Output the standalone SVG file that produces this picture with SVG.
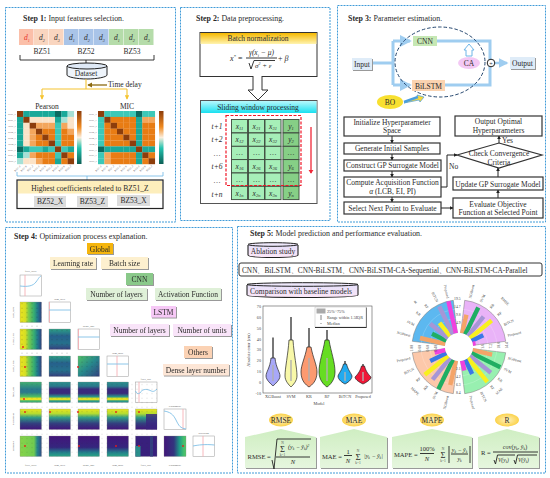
<svg xmlns="http://www.w3.org/2000/svg" width="550" height="478" viewBox="0 0 550 478">
<style>
text{font-family:"Liberation Serif","Times New Roman",serif;fill:#2a2a2a;font-size:7.5px}
.ttl{font-size:7.9px}.b{font-weight:bold}
.panel{fill:#fff;stroke:#3f9bd8;stroke-width:1;stroke-dasharray:2 1}
.m{text-anchor:middle}.i{font-style:italic}
.fb{fill:#fff;stroke:#333;stroke-width:1.2}
.ln{fill:none;stroke:#222;stroke-width:.9}
.conn{fill:none;stroke:#222;stroke-width:1;marker-end:url(#ak)}
.yl{fill:none;stroke:#f5c431;stroke-width:1.1}
.thick{fill:none;stroke:#9fcdf0;stroke-width:3}
.lbl{filter:url(#sh)}
.hc rect{width:6.45px;height:6px}
.a{fill:#8c3d0c}.k{fill:#e87c14}.c{fill:#f3a65c}.d{fill:#fbe3c8}.e{fill:#a6e0d6}.f{fill:#3cc8b8}.g{fill:#1aa999}.h{fill:#0b6a60}
.cell rect{width:16px;height:13.3px;stroke:#3d4a3d;stroke-width:.9}
.xc{fill:#a6efb8}.yc{fill:#86cf86}
.hm{stroke:#888;stroke-width:.3}
.lc{fill:#fff;stroke:#999;stroke-width:.5}
.cv{fill:none;stroke:#7fbfe6;stroke-width:.9}
.pk{stroke:#f5a6ac;stroke-width:.8}
.tiny{font-size:2.6px;fill:#555}
.hl{font-size:2.3px;fill:#555}
.red{fill:#e81c1c}
.ax{font-size:4.2px;fill:#444}
.vi{stroke:#222;stroke-width:.7}
.tail{stroke:#555;stroke-width:1.6}
.bars line{stroke-width:4.4}
.o{stroke:#f4a468}.gr{stroke:#1fae62}.pu{stroke:#a696d6}.ye{stroke:#f8f01e}.bl{stroke:#3a78e6}.ma{stroke:#f042de}
.rl{font-size:3.7px;fill:#444}
.sec{stroke:#777;stroke-width:.5}
.grid{fill:none;stroke:#fff;stroke-opacity:.45;stroke-width:.4}
.ell{fill:url(#ye)}
.mbox{fill:url(#gb);filter:url(#sh)}
.fx{font-size:6.6px}
.cyl{fill:url(#lav);stroke:#222;stroke-width:1.1}
</style>
<defs>
<marker id="ak" markerWidth="4" markerHeight="4" refX="3.4" refY="2" orient="auto"><path d="M0 0L4 2L0 4Z" fill="#222"/></marker>
<marker id="ay" markerWidth="4" markerHeight="4" refX="3.4" refY="2" orient="auto"><path d="M0 0L4 2L0 4Z" fill="#f5c431"/></marker>
<marker id="ab" markerWidth="4" markerHeight="4" refX="3.4" refY="2" orient="auto"><path d="M0 0L4 2L0 4Z" fill="#9fcdf0"/></marker>
<marker id="abr" markerWidth="4" markerHeight="4" refX="3.4" refY="2" orient="auto"><path d="M0 0L4 2L0 4Z" fill="#8c6a10"/></marker>
<marker id="ar" markerWidth="3" markerHeight="4" refX="2.5" refY="2" orient="auto"><path d="M0 0L3 2L0 4Z" fill="#f02838"/></marker>
<filter id="sh" x="-10%" y="-10%" width="125%" height="130%"><feDropShadow dx="1" dy="1" stdDeviation=".5" flood-color="#999"/></filter>
<linearGradient id="hy" x2="0" y2="1"><stop offset="0" stop-color="#f5b800"/><stop offset="1" stop-color="#fff4b0"/></linearGradient>
<linearGradient id="hc" x2="0" y2="1"><stop offset="0" stop-color="#b8f8fc"/><stop offset="1" stop-color="#18e0f0"/></linearGradient>
<linearGradient id="cbar" x2="0" y2="1"><stop offset="0" stop-color="#8c3d0c"/><stop offset=".3" stop-color="#f08a20"/><stop offset=".5" stop-color="#fbeedd"/><stop offset=".7" stop-color="#25c4b0"/><stop offset="1" stop-color="#0b5e55"/></linearGradient>
<linearGradient id="lav" x2="0" y2="1"><stop offset="0" stop-color="#e6e0fb"/><stop offset="1" stop-color="#fbe6f6"/></linearGradient>
<radialGradient id="ye"><stop offset="0" stop-color="#fff2c0"/><stop offset="1" stop-color="#fbd24a"/></radialGradient>
<linearGradient id="gb" x2="0" y2="1"><stop offset="0" stop-color="#cfeec2"/><stop offset="1" stop-color="#e6f6de"/></linearGradient>
<linearGradient id="h1"><stop offset="0" stop-color="#ece51e"/><stop offset=".25" stop-color="#d6de24"/><stop offset=".4" stop-color="#7ccb4a"/><stop offset=".65" stop-color="#36ad72"/><stop offset=".82" stop-color="#207a8c"/><stop offset="1" stop-color="#30407e"/></linearGradient>
<linearGradient id="h2"><stop offset="0" stop-color="#86d34a"/><stop offset=".65" stop-color="#70cb50"/><stop offset=".8" stop-color="#26868c"/><stop offset="1" stop-color="#2f4b85"/></linearGradient>
<linearGradient id="h3"><stop offset="0" stop-color="#42167a"/><stop offset=".45" stop-color="#33357e"/><stop offset=".7" stop-color="#1f9a88"/><stop offset=".88" stop-color="#40bc70"/><stop offset="1" stop-color="#55c665"/></linearGradient>
<linearGradient id="v1" x2="0" y2="1"><stop offset="0" stop-color="#eae51e"/><stop offset=".22" stop-color="#b6dc30"/><stop offset=".42" stop-color="#2f9c88"/><stop offset=".7" stop-color="#33407f"/><stop offset="1" stop-color="#42147a"/></linearGradient>
<linearGradient id="v2" x2="0" y2="1"><stop offset="0" stop-color="#42147a"/><stop offset=".55" stop-color="#35267e"/><stop offset=".8" stop-color="#237f8c"/><stop offset="1" stop-color="#2aa584"/></linearGradient>
<linearGradient id="v3" x2="0" y2="1"><stop offset="0" stop-color="#2ca085"/><stop offset=".35" stop-color="#26608c"/><stop offset=".7" stop-color="#26708c"/><stop offset="1" stop-color="#37407f"/></linearGradient>
<linearGradient id="v4" x2="1" y2="1"><stop offset="0" stop-color="#50c068"/><stop offset=".5" stop-color="#26888c"/><stop offset="1" stop-color="#33407f"/></linearGradient>
<linearGradient id="st" x2="0" y2="1"><stop offset="0" stop-color="#2a8f8c"/><stop offset=".2" stop-color="#2a7a8c"/><stop offset=".35" stop-color="#3a2a7c"/><stop offset=".55" stop-color="#3a2a7c"/><stop offset=".72" stop-color="#2a9a88"/><stop offset=".8" stop-color="#e0e024"/><stop offset=".86" stop-color="#e0e024"/><stop offset=".92" stop-color="#2a9a88"/><stop offset="1" stop-color="#2a8f8c"/></linearGradient>
<linearGradient id="st0" x2="0" y2="1"><stop offset="0" stop-color="#40b070"/><stop offset=".35" stop-color="#2a7a8c"/><stop offset=".5" stop-color="#2a7a8c"/><stop offset=".72" stop-color="#50c060"/><stop offset=".8" stop-color="#e8e424"/><stop offset=".86" stop-color="#e8e424"/><stop offset=".92" stop-color="#40b070"/><stop offset="1" stop-color="#40b070"/></linearGradient>
<pattern id="dots" width="5" height="4.5" patternUnits="userSpaceOnUse"><circle cx="2" cy="2" r=".35" fill="#222"/></pattern>
<path id="sector" d="M1.7-13.9L5.7-46.7A47 47 0 0 1 46.7-5.7L13.9-1.7A14 14 0 0 0 1.7-13.9Z"/>
</defs>
<rect width="550" height="478" fill="#fff"/>

<g id="panels">
<rect class="panel" x="5.500" y="7.500" width="170" height="214.500"/>
<rect class="panel" x="180.500" y="7.500" width="149.500" height="213"/>
<rect class="panel" x="337.500" y="5.500" width="208" height="216.500"/>
<rect class="panel" x="5.500" y="227.500" width="227" height="245.500"/>
<rect class="panel" x="237.500" y="226.500" width="308" height="246.500"/>
</g>

<g id="step1">
<text class="ttl" x="23" y="21"><tspan class="b">Step 1:</tspan> Input features selection.</text>
<g id="bz51">
<rect x="19" y="29" width="14.500" height="16" fill="#fbbfa9"/><rect x="34" y="29" width="14.500" height="16" fill="#f9d5bf"/><rect x="49" y="29" width="14.500" height="16" fill="#f9d5bf"/>
<text class="i" x="24" y="40" style="fill:#e8342c">d<tspan dy="1.500" font-size="4">1</tspan></text><text class="i" x="39" y="40">d<tspan dy="1.500" font-size="4">2</tspan></text><text class="i" x="54" y="40">d<tspan dy="1.500" font-size="4">3</tspan></text>
<text class="m" x="42" y="53.500">BZ51</text></g>
<g id="bz52">
<rect x="64" y="29" width="14.500" height="16" fill="#a9c4e8"/><rect x="79" y="29" width="14.500" height="16" fill="#a9c4e8"/><rect x="94" y="29" width="14.500" height="16" fill="#a9c4e8"/>
<text class="i" x="69" y="40">d<tspan dy="1.500" font-size="4">1</tspan></text><text class="i" x="84" y="40">d<tspan dy="1.500" font-size="4">2</tspan></text><text class="i" x="99" y="40">d<tspan dy="1.500" font-size="4">3</tspan></text>
<text class="m" x="86" y="53.500">BZ52</text></g>
<g id="bz53">
<rect x="109" y="29" width="14.500" height="16" fill="#b5dcaa"/><rect x="124" y="29" width="14.500" height="16" fill="#b5dcaa"/><rect x="139" y="29" width="14.500" height="16" fill="#b5dcaa"/>
<text class="i" x="114" y="40">d<tspan dy="1.500" font-size="4">1</tspan></text><text class="i" x="129" y="40">d<tspan dy="1.500" font-size="4">2</tspan></text><text class="i" x="144" y="40">d<tspan dy="1.500" font-size="4">3</tspan></text>
<text class="m" x="132" y="53.500">BZ53</text></g>
<g id="dataset">
<path d="M67 66V75C67 77 77 79 87 79S107 77 107 75V66" fill="#eef4fb" stroke="#222" stroke-width="1"/>
<ellipse cx="87" cy="66" rx="20" ry="3" fill="#dfe9f6" stroke="#222" stroke-width="1"/>
<text class="m" x="86" y="75.500">Dataset</text></g>
<g id="step1-connectors">
<path class="ln" d="M20 55V60H154V55M86 60V63"/>
<path class="yl" d="M86 79V89M42 89H127"/>
<path class="yl" d="M42 89V99" marker-end="url(#ay)"/>
<path class="yl" d="M127 89V99" marker-end="url(#ay)"/>
<path d="M107 85H88" fill="none" stroke="#8c6a10" stroke-width="1.300" marker-end="url(#abr)"/>
<path d="M17 172V176H163V172M87 176V180" fill="none" stroke="#6cb6e4" stroke-width=".8"/>
</g>
<text x="108" y="87">Time delay</text>
<text class="m" x="47" y="108.500">Pearson</text>
<text class="m" x="127" y="108.500">MIC</text>
<g id="pearson" class="hc" transform="translate(17,111)">
<rect class="a" x="0" y="0"/><rect class="g" x="6.330" y="0"/><rect class="g" x="12.660" y="0"/><rect class="g" x="19" y="0"/><rect class="g" x="25.300" y="0"/><rect class="g" x="31.600" y="0"/><rect class="h" x="38" y="0"/><rect class="g" x="44.300" y="0"/><rect class="e" x="50.600" y="0"/>
<rect class="g" x="0" y="5.900"/><rect class="a" x="6.330" y="5.900"/><rect class="d" x="12.660" y="5.900"/><rect class="d" x="19" y="5.900"/><rect class="d" x="25.300" y="5.900"/><rect class="d" x="31.600" y="5.900"/><rect class="g" x="38" y="5.900"/><rect class="e" x="44.300" y="5.900"/><rect class="d" x="50.600" y="5.900"/>
<rect class="g" x="0" y="11.800"/><rect class="d" x="6.330" y="11.800"/><rect class="a" x="12.660" y="11.800"/><rect class="c" x="19" y="11.800"/><rect class="c" x="25.300" y="11.800"/><rect class="c" x="31.600" y="11.800"/><rect class="f" x="38" y="11.800"/><rect class="c" x="44.300" y="11.800"/><rect class="d" x="50.600" y="11.800"/>
<rect class="g" x="0" y="17.700"/><rect class="d" x="6.330" y="17.700"/><rect class="c" x="12.660" y="17.700"/><rect class="a" x="19" y="17.700"/><rect class="k" x="25.300" y="17.700"/><rect class="k" x="31.600" y="17.700"/><rect class="f" x="38" y="17.700"/><rect class="k" x="44.300" y="17.700"/><rect class="c" x="50.600" y="17.700"/>
<rect class="g" x="0" y="23.600"/><rect class="d" x="6.330" y="23.600"/><rect class="c" x="12.660" y="23.600"/><rect class="k" x="19" y="23.600"/><rect class="a" x="25.300" y="23.600"/><rect class="k" x="31.600" y="23.600"/><rect class="f" x="38" y="23.600"/><rect class="k" x="44.300" y="23.600"/><rect class="k" x="50.600" y="23.600"/>
<rect class="g" x="0" y="29.500"/><rect class="d" x="6.330" y="29.500"/><rect class="c" x="12.660" y="29.500"/><rect class="k" x="19" y="29.500"/><rect class="k" x="25.300" y="29.500"/><rect class="a" x="31.600" y="29.500"/><rect class="f" x="38" y="29.500"/><rect class="k" x="44.300" y="29.500"/><rect class="k" x="50.600" y="29.500"/>
<rect class="h" x="0" y="35.400"/><rect class="g" x="6.330" y="35.400"/><rect class="f" x="12.660" y="35.400"/><rect class="f" x="19" y="35.400"/><rect class="g" x="25.300" y="35.400"/><rect class="f" x="31.600" y="35.400"/><rect class="a" x="38" y="35.400"/><rect class="f" x="44.300" y="35.400"/><rect class="g" x="50.600" y="35.400"/>
<rect class="g" x="0" y="41.300"/><rect class="e" x="6.330" y="41.300"/><rect class="c" x="12.660" y="41.300"/><rect class="k" x="19" y="41.300"/><rect class="k" x="25.300" y="41.300"/><rect class="k" x="31.600" y="41.300"/><rect class="f" x="38" y="41.300"/><rect class="a" x="44.300" y="41.300"/><rect class="k" x="50.600" y="41.300"/>
<rect class="e" x="0" y="47.200"/><rect class="d" x="6.330" y="47.200"/><rect class="d" x="12.660" y="47.200"/><rect class="c" x="19" y="47.200"/><rect class="k" x="25.300" y="47.200"/><rect class="k" x="31.600" y="47.200"/><rect class="g" x="38" y="47.200"/><rect class="k" x="44.300" y="47.200"/><rect class="a" x="50.600" y="47.200"/>
</g>
<g id="pearson-axis-labels">
<text class="hl" text-anchor="end" x="16" y="115">BZ51_X</text><text class="hl" text-anchor="end" x="16" y="121">BZ51_Y</text><text class="hl" text-anchor="end" x="16" y="127">BZ51_Z</text><text class="hl" text-anchor="end" x="16" y="132.500">BZ52_X</text><text class="hl" text-anchor="end" x="16" y="138.500">BZ52_Y</text><text class="hl" text-anchor="end" x="16" y="144.500">BZ52_Z</text><text class="hl" text-anchor="end" x="16" y="150.500">BZ53_X</text><text class="hl" text-anchor="end" x="16" y="156">BZ53_Y</text><text class="hl" text-anchor="end" x="16" y="162">BZ53_Z</text>
<text class="hl" text-anchor="end" transform="translate(21,166) rotate(-45)">BZ51_X</text><text class="hl" text-anchor="end" transform="translate(27.300,166) rotate(-45)">BZ51_Y</text><text class="hl" text-anchor="end" transform="translate(33.600,166) rotate(-45)">BZ51_Z</text><text class="hl" text-anchor="end" transform="translate(40,166) rotate(-45)">BZ52_X</text><text class="hl" text-anchor="end" transform="translate(46.300,166) rotate(-45)">BZ52_Y</text><text class="hl" text-anchor="end" transform="translate(52.600,166) rotate(-45)">BZ52_Z</text><text class="hl" text-anchor="end" transform="translate(59,166) rotate(-45)">BZ53_X</text><text class="hl" text-anchor="end" transform="translate(65.300,166) rotate(-45)">BZ53_Y</text><text class="hl" text-anchor="end" transform="translate(71.600,166) rotate(-45)">BZ53_Z</text>
</g>
<rect x="77" y="111" width="4.500" height="53" fill="url(#cbar)"/>
<g id="mic" class="hc" transform="translate(98,111)">
<rect class="a" x="0" y="0"/><rect class="f" x="6.330" y="0"/><rect class="f" x="12.660" y="0"/><rect class="f" x="19" y="0"/><rect class="f" x="25.300" y="0"/><rect class="f" x="31.600" y="0"/><rect class="h" x="38" y="0"/><rect class="f" x="44.300" y="0"/><rect class="f" x="50.600" y="0"/>
<rect class="f" x="0" y="5.900"/><rect class="a" x="6.330" y="5.900"/><rect class="k" x="12.660" y="5.900"/><rect class="k" x="19" y="5.900"/><rect class="k" x="25.300" y="5.900"/><rect class="k" x="31.600" y="5.900"/><rect class="g" x="38" y="5.900"/><rect class="c" x="44.300" y="5.900"/><rect class="c" x="50.600" y="5.900"/>
<rect class="f" x="0" y="11.800"/><rect class="k" x="6.330" y="11.800"/><rect class="a" x="12.660" y="11.800"/><rect class="k" x="19" y="11.800"/><rect class="k" x="25.300" y="11.800"/><rect class="k" x="31.600" y="11.800"/><rect class="g" x="38" y="11.800"/><rect class="k" x="44.300" y="11.800"/><rect class="k" x="50.600" y="11.800"/>
<rect class="f" x="0" y="17.700"/><rect class="k" x="6.330" y="17.700"/><rect class="k" x="12.660" y="17.700"/><rect class="a" x="19" y="17.700"/><rect class="k" x="25.300" y="17.700"/><rect class="k" x="31.600" y="17.700"/><rect class="g" x="38" y="17.700"/><rect class="k" x="44.300" y="17.700"/><rect class="k" x="50.600" y="17.700"/>
<rect class="f" x="0" y="23.600"/><rect class="k" x="6.330" y="23.600"/><rect class="k" x="12.660" y="23.600"/><rect class="k" x="19" y="23.600"/><rect class="a" x="25.300" y="23.600"/><rect class="k" x="31.600" y="23.600"/><rect class="g" x="38" y="23.600"/><rect class="k" x="44.300" y="23.600"/><rect class="k" x="50.600" y="23.600"/>
<rect class="f" x="0" y="29.500"/><rect class="k" x="6.330" y="29.500"/><rect class="k" x="12.660" y="29.500"/><rect class="k" x="19" y="29.500"/><rect class="k" x="25.300" y="29.500"/><rect class="a" x="31.600" y="29.500"/><rect class="g" x="38" y="29.500"/><rect class="k" x="44.300" y="29.500"/><rect class="k" x="50.600" y="29.500"/>
<rect class="h" x="0" y="35.400"/><rect class="g" x="6.330" y="35.400"/><rect class="g" x="12.660" y="35.400"/><rect class="g" x="19" y="35.400"/><rect class="g" x="25.300" y="35.400"/><rect class="g" x="31.600" y="35.400"/><rect class="a" x="38" y="35.400"/><rect class="g" x="44.300" y="35.400"/><rect class="g" x="50.600" y="35.400"/>
<rect class="f" x="0" y="41.300"/><rect class="c" x="6.330" y="41.300"/><rect class="k" x="12.660" y="41.300"/><rect class="k" x="19" y="41.300"/><rect class="k" x="25.300" y="41.300"/><rect class="k" x="31.600" y="41.300"/><rect class="g" x="38" y="41.300"/><rect class="a" x="44.300" y="41.300"/><rect class="k" x="50.600" y="41.300"/>
<rect class="f" x="0" y="47.200"/><rect class="c" x="6.330" y="47.200"/><rect class="k" x="12.660" y="47.200"/><rect class="k" x="19" y="47.200"/><rect class="k" x="25.300" y="47.200"/><rect class="k" x="31.600" y="47.200"/><rect class="g" x="38" y="47.200"/><rect class="k" x="44.300" y="47.200"/><rect class="a" x="50.600" y="47.200"/>
</g>
<g id="mic-axis-labels">
<text class="hl" text-anchor="end" x="97" y="115">BZ51_X</text><text class="hl" text-anchor="end" x="97" y="121">BZ51_Y</text><text class="hl" text-anchor="end" x="97" y="127">BZ51_Z</text><text class="hl" text-anchor="end" x="97" y="132.500">BZ52_X</text><text class="hl" text-anchor="end" x="97" y="138.500">BZ52_Y</text><text class="hl" text-anchor="end" x="97" y="144.500">BZ52_Z</text><text class="hl" text-anchor="end" x="97" y="150.500">BZ53_X</text><text class="hl" text-anchor="end" x="97" y="156">BZ53_Y</text><text class="hl" text-anchor="end" x="97" y="162">BZ53_Z</text>
<text class="hl" text-anchor="end" transform="translate(102,166) rotate(-45)">BZ51_X</text><text class="hl" text-anchor="end" transform="translate(108.300,166) rotate(-45)">BZ51_Y</text><text class="hl" text-anchor="end" transform="translate(114.600,166) rotate(-45)">BZ51_Z</text><text class="hl" text-anchor="end" transform="translate(121,166) rotate(-45)">BZ52_X</text><text class="hl" text-anchor="end" transform="translate(127.300,166) rotate(-45)">BZ52_Y</text><text class="hl" text-anchor="end" transform="translate(133.600,166) rotate(-45)">BZ52_Z</text><text class="hl" text-anchor="end" transform="translate(140,166) rotate(-45)">BZ53_X</text><text class="hl" text-anchor="end" transform="translate(146.300,166) rotate(-45)">BZ53_Y</text><text class="hl" text-anchor="end" transform="translate(152.600,166) rotate(-45)">BZ53_Z</text>
</g>
<rect x="159" y="111" width="4.500" height="53" fill="url(#cbar)"/>
<g id="coefficients">
<rect x="17" y="180" width="146" height="28.500" fill="#fff" stroke="#222" stroke-width="1.200"/>
<rect x="18" y="181" width="144" height="12.500" fill="#fdeebc"/>
<text class="m" x="90" y="190.500">Highest coefficients related to BZ51_Z</text>
<rect x="34" y="196" width="32" height="11" fill="#dcdcdc"/><text class="m" x="50" y="204">BZ52_X</text>
<rect x="77" y="196" width="31" height="11" fill="#dcdcdc"/><text class="m" x="92.500" y="204">BZ53_Z</text>
<rect x="117" y="195" width="33" height="11" fill="#dcdcdc"/><text class="m" x="133.500" y="203">BZ53_X</text>
</g>
</g>

<g id="step2">
<text class="ttl" x="196" y="21"><tspan class="b">Step 2:</tspan> Data preprocessing.</text>
<g id="batch-normalization">
<rect x="200" y="32.500" width="117" height="44" fill="#fff" stroke="#333" stroke-width="1"/>
<rect x="200.500" y="33" width="116" height="11" fill="url(#hy)"/>
<text class="m" x="258" y="41">Batch normalization</text>
<text class="i" x="230" y="61" style="font-size:8px">x<tspan dy="-3" style="font-size:5px">*</tspan><tspan dy="3" font-style="normal"> =</tspan></text>
<text class="i m" x="261.500" y="55" style="font-size:7.5px">γ(x<tspan dy="1.500" style="font-size:4.500px">i</tspan><tspan dy="-1.500"> − μ)</tspan></text>
<path class="ln" d="M246 58H277M249 63L251 69L254 60.500H275" stroke-width=".7"/>
<text class="i" x="255" y="67.500" style="font-size:7px">σ<tspan dy="-2.500" style="font-size:4px">2</tspan><tspan dy="2.500"> + ε</tspan></text>
<text class="i" x="278" y="61" style="font-size:8px"><tspan font-style="normal">+ </tspan>β</text>
</g>
<path id="hollow-arrow" d="M253 76V90H248L258 100L268 90H262V76" fill="#fff" stroke="#333" stroke-width="1"/>
<g id="sliding-window">
<rect x="200.500" y="100.500" width="116.500" height="103" fill="#fff" stroke="#555" stroke-width="1"/>
<rect x="201" y="101" width="115.500" height="12" fill="url(#hc)"/>
<text class="m" x="258" y="109.500">Sliding window processing</text>
<text class="i m" x="217" y="129">t+1</text><text class="i m" x="217" y="142">t+2</text><text class="m" x="217" y="156">…</text><text class="i m" x="217" y="169">t+6</text><text class="m" x="217" y="183">…</text><text class="i m" x="217" y="197">t+n</text>
<g class="cell">
<rect class="xc" x="231.500" y="119.500"/><rect class="xc" x="248.500" y="119.500"/><rect class="xc" x="265" y="119.500"/><rect class="yc" x="283" y="119.500"/>
<rect class="xc" x="231.500" y="133"/><rect class="xc" x="248.500" y="133"/><rect class="xc" x="265" y="133"/><rect class="yc" x="283" y="133"/>
<rect class="xc" x="231.500" y="146.300"/><rect class="xc" x="248.500" y="146.300"/><rect class="xc" x="265" y="146.300"/><rect class="yc" x="283" y="146.300"/>
<rect class="xc" x="231.500" y="159.600"/><rect class="xc" x="248.500" y="159.600"/><rect class="xc" x="265" y="159.600"/><rect class="yc" x="283" y="159.600"/>
<rect class="xc" x="231.500" y="173"/><rect class="xc" x="248.500" y="173"/><rect class="xc" x="265" y="173"/><rect class="yc" x="283" y="173"/>
<rect class="xc" x="231.500" y="186.300"/><rect class="xc" x="248.500" y="186.300"/><rect class="xc" x="265" y="186.300"/><rect class="yc" x="283" y="186.300"/>
</g>
<g class="i">
<text class="m" x="239.500" y="129">x<tspan dy="1" style="font-size:4.500px">11</tspan></text><text class="m" x="256.500" y="129">x<tspan dy="1" style="font-size:4.500px">21</tspan></text><text class="m" x="273" y="129">x<tspan dy="1" style="font-size:4.500px">31</tspan></text><text class="m" x="291" y="129">y<tspan dy="1" style="font-size:4.500px">1</tspan></text>
<text class="m" x="239.500" y="142">x<tspan dy="1" style="font-size:4.500px">12</tspan></text><text class="m" x="256.500" y="142">x<tspan dy="1" style="font-size:4.500px">22</tspan></text><text class="m" x="273" y="142">x<tspan dy="1" style="font-size:4.500px">32</tspan></text><text class="m" x="291" y="142">y<tspan dy="1" style="font-size:4.500px">2</tspan></text>
<text class="m" x="239.500" y="155">…</text><text class="m" x="256.500" y="155">…</text><text class="m" x="273" y="155">…</text><text class="m" x="291" y="155">…</text>
<text class="m" x="239.500" y="168.500">x<tspan dy="1" style="font-size:4.500px">16</tspan></text><text class="m" x="256.500" y="168.500">x<tspan dy="1" style="font-size:4.500px">26</tspan></text><text class="m" x="273" y="168.500">x<tspan dy="1" style="font-size:4.500px">36</tspan></text><text class="m" x="291" y="168.500">y<tspan dy="1" style="font-size:4.500px">6</tspan></text>
<text class="m" x="239.500" y="182">…</text><text class="m" x="256.500" y="182">…</text><text class="m" x="273" y="182">…</text><text class="m" x="291" y="182">…</text>
<text class="m" x="239.500" y="195.500">x<tspan dy="1" style="font-size:4.500px">1n</tspan></text><text class="m" x="256.500" y="195.500">x<tspan dy="1" style="font-size:4.500px">2n</tspan></text><text class="m" x="273" y="195.500">x<tspan dy="1" style="font-size:4.500px">3n</tspan></text><text class="m" x="291" y="195.500">y<tspan dy="1" style="font-size:4.500px">n</tspan></text>
</g>
<rect x="226" y="115.500" width="75" height="70" fill="none" stroke="#f01828" stroke-width="1.200" stroke-dasharray="3 1.500"/>
<path d="M311 127V173" fill="none" stroke="#f02838" stroke-width="1.300" marker-end="url(#ar)"/>
</g>
</g>

<g id="step3">
<text class="ttl" x="348" y="21"><tspan class="b">Step 3:</tspan> Parameter estimation.</text>
<g id="step3-network-connectors">
<path class="thick" d="M372 63H393M393 41V85M393 41H410" marker-end="url(#ab)"/>
<path class="thick" d="M393 85H410" marker-end="url(#ab)"/>
<path class="thick" d="M437 41H490V85H445"/>
<path d="M495 63H507" fill="none" stroke="#9fcdf0" stroke-width="2.500" marker-end="url(#ab)"/>
<path d="M466 56V50H464L469 44L474 50H472V56Z" fill="#fff" stroke="#6fb6e8" stroke-width="1"/>
<path d="M404 102L418 97" fill="none" stroke="#4a9ede" stroke-width="2.500"/>
<path d="M404 103L418 98L417 95L424 97L420 102L419 100Z" fill="#f8d838" stroke="#4a9ede" stroke-width=".7"/>
</g>
<ellipse id="dashed-scope" cx="440" cy="62" rx="45" ry="35" fill="none" stroke="#24466e" stroke-width="1" stroke-dasharray="3.500 2"/>
<g id="n-input"><rect x="352" y="58" width="20" height="12" fill="#dfecf8" filter="url(#sh)"/><text class="m" x="362" y="66.500">Input</text></g>
<g id="n-cnn"><rect x="413" y="36" width="24" height="10" fill="#c6e8b4"/><text class="m" x="425" y="44">CNN</text></g>
<g id="n-bilstm"><rect x="412" y="80" width="33" height="11" fill="#fbd3b0"/><text class="m" x="428.500" y="88.500">BiLSTM</text></g>
<g id="n-ca"><ellipse cx="469" cy="63" rx="11" ry="6" fill="#f3c8f4"/><text class="m" x="469" y="66">CA</text></g>
<g id="n-plus"><circle cx="491" cy="63" r="3.800" fill="#fff" stroke="#222"/><text class="m" x="491" y="65.500" style="font-size:6px">+</text></g>
<g id="n-output"><rect x="510" y="57" width="25" height="12" fill="#dfecf8" filter="url(#sh)"/><text class="m" x="522.500" y="65.500">Output</text></g>
<g id="n-bo"><ellipse cx="390" cy="102" rx="13" ry="7" fill="#f8e030"/><text class="m" x="390" y="105">BO</text></g>
<g id="step3-flow-connectors">
<path class="conn" d="M392 136V143"/><path class="conn" d="M392 154V160"/><path class="conn" d="M392 171V177"/><path class="conn" d="M392 197V202"/>
<path class="conn" d="M441 208H453"/><path class="conn" d="M498 198V190"/><path class="conn" d="M498 177V168"/><path class="conn" d="M499 143V136"/>
<path class="conn" d="M441 187H447V155H457"/>
</g>
<g id="n-init"><rect class="fb" x="344" y="117" width="96" height="19"/><text class="m" x="392" y="124.500">Initialize Hyperparameter</text><text class="m" x="392" y="133">Space</text></g>
<g id="n-gen"><rect class="fb" x="344" y="143" width="96" height="11"/><text class="m" x="392" y="151">Generate Initial Samples</text></g>
<g id="n-gp"><rect class="fb" x="344" y="160" width="97" height="11"/><text class="m" x="392.500" y="168">Construct GP Surrogate Model</text></g>
<g id="n-acq"><rect class="fb" x="344" y="177" width="97" height="20"/><text class="m" x="392.500" y="185">Compute Acquisition Function</text><text class="m" x="392.500" y="194"><tspan class="i">α</tspan> (LCB, EI, PI)</text></g>
<g id="n-select"><rect class="fb" x="344" y="202" width="97" height="12"/><text class="m" x="392.500" y="211">Select Next Point to Evaluate</text></g>
<g id="n-opt"><rect class="fb" x="455" y="116" width="87" height="20"/><text class="m" x="498.500" y="124">Output Optimal</text><text class="m" x="498.500" y="133">Hyperparameters</text></g>
<g id="n-check"><path class="fb" d="M457 155L499 143L542 155L499 168Z"/><text class="m" x="499" y="156">Check Convergence</text><text class="m" x="499" y="165">Criteria</text></g>
<g id="n-update"><rect class="fb" x="453" y="177" width="90" height="13"/><text class="m" x="498" y="186.500">Update GP Surrogate Model</text></g>
<g id="n-eval"><rect class="fb" x="453" y="198" width="90" height="20"/><text class="m" x="498" y="206.500">Evaluate Objective</text><text class="m" x="498" y="215">Function at Selected Point</text></g>
<text x="502" y="142.500">Yes</text><text x="449" y="169">No</text>
</g>

<g id="step4">
<text class="ttl" x="14" y="239"><tspan class="b">Step 4:</tspan> Optimization process explanation.</text>
<g class="lbl">
<g id="n-global"><rect x="87" y="243" width="26" height="11" fill="#f5b50a"/><text class="m" x="100" y="251.500">Global</text></g>
<g id="n-lr"><rect x="50" y="257" width="46" height="12" fill="#fdf0cf"/><text class="m" x="73" y="266">Learning rate</text></g>
<g id="n-bs"><rect x="101" y="257" width="47" height="12" fill="#fdf0cf"/><text class="m" x="124.500" y="266">Batch size</text></g>
<g id="n-cnn2"><rect x="126" y="273" width="27" height="12" fill="#8ac98a"/><text class="m" x="139.500" y="281.500">CNN</text></g>
<g id="n-cl"><rect x="86" y="288" width="61" height="12" fill="#dff0d8"/><text class="m" x="116.500" y="297">Number of layers</text></g>
<g id="n-af"><rect x="155" y="288" width="66" height="12" fill="#dff0d8"/><text class="m" x="188" y="297">Activation Function</text></g>
<g id="n-lstm"><rect x="151" y="306" width="25" height="11.500" fill="#f6c8f6"/><text class="m" x="163.500" y="314.500">LSTM</text></g>
<g id="n-ll"><rect x="110" y="324" width="59" height="12" fill="#f9e4f9"/><text class="m" x="139.500" y="332.500">Number of layers</text></g>
<g id="n-lu"><rect x="173" y="324" width="58" height="12" fill="#f9e4f9"/><text class="m" x="202" y="332.500">Number of units</text></g>
<g id="n-others"><rect x="184" y="346" width="28" height="12" fill="#fbd2b4"/><text class="m" x="198" y="354.500">Others</text></g>
<g id="n-dense"><rect x="163" y="364" width="66" height="11.500" fill="#fde6d6"/><text class="m" x="196" y="372.500">Dense layer number</text></g>
</g>
<g id="pairplot">
<rect class="lc" x="20" y="275" width="21.500" height="21"/><path class="pk" d="M25 275V296"/><path class="cv" d="M20 286C28 287 33 286 36 282S39 277 41 276"/>
<text class="tiny m" x="30.700" y="272">filter_layer</text>
<rect class="hm" x="20" y="302" width="21.500" height="20.500" fill="url(#h1)"/>
<rect class="hm" x="20" y="329" width="21.500" height="20.500" fill="url(#h1)"/>
<rect class="hm" x="20" y="356" width="21.500" height="20.500" fill="url(#h1)"/>
<rect class="hm" x="20" y="382" width="21.500" height="20.500" fill="url(#st0)"/>
<rect class="hm" x="20" y="409" width="21.500" height="20.500" fill="url(#v1)"/>
<rect class="hm" x="20" y="436" width="21.500" height="20.500" fill="url(#h2)"/>
<rect class="lc" x="49" y="302" width="21.500" height="20.500"/><path class="pk" d="M49.500 302V322.500"/><path class="cv" d="M49 310H70.500"/>
<text class="tiny m" x="59.700" y="299.500">lstm_layer</text>
<rect class="hm" x="49" y="329" width="21.500" height="20.500" fill="url(#v3)"/>
<rect class="hm" x="49" y="356" width="21.500" height="20.500" fill="url(#v3)"/>
<rect class="hm" x="49" y="382" width="21.500" height="20.500" fill="url(#st)"/>
<rect class="hm" x="49" y="409" width="21.500" height="20.500" fill="url(#v1)"/>
<rect class="hm" x="49" y="436" width="21.500" height="20.500" fill="url(#v2)"/>
<rect class="lc" x="78" y="329" width="21.500" height="20.500"/><path class="pk" d="M78.500 329V349.500"/><path class="cv" d="M78 337H99.500"/>
<text class="tiny m" x="88.700" y="326.500">dense_unit</text>
<rect class="hm" x="78" y="356" width="21.500" height="20.500" fill="url(#v4)"/>
<rect class="hm" x="78" y="382" width="21.500" height="20.500" fill="url(#st)"/>
<rect class="hm" x="78" y="409" width="21.500" height="20.500" fill="url(#v1)"/>
<rect class="hm" x="78" y="436" width="21.500" height="20.500" fill="url(#v2)"/>
<rect class="lc" x="107" y="356" width="21.500" height="20.500"/><path class="pk" d="M117 356V376.500"/><path class="cv" d="M107 364H128.500"/>
<text class="tiny m" x="117.700" y="353.500">lstm_units</text>
<rect class="hm" x="107" y="382" width="21.500" height="20.500" fill="url(#st)"/>
<rect class="hm" x="107" y="409" width="21.500" height="20.500" fill="url(#v1)"/>
<rect class="hm" x="107" y="436" width="21.500" height="20.500" fill="url(#v2)"/>
<rect class="lc" x="135.500" y="382" width="21.500" height="20.500"/><path class="pk" d="M139 382V402.500"/><path class="cv" d="M135.500 391C137 394 138 394 140 393C142 389 146 389 149 390S153 393 157 389"/>
<text class="tiny m" x="146" y="380">filter_size</text>
<rect class="hm" x="135.500" y="409" width="21.500" height="20.500" fill="url(#v1)"/>
<rect x="146" y="414" width="11" height="15.500" fill="#3a2480" opacity=".8"/>
<rect class="hm" x="135.500" y="436" width="21.500" height="20.500" fill="#38207c"/>
<rect x="135.500" y="446" width="5" height="10.500" fill="#2a8f8c"/>
<rect x="150" y="436" width="3" height="20.500" fill="#33407f"/>
<rect class="lc" x="164" y="409" width="22" height="20.500"/><path class="pk" d="M183 409V429.500"/><path class="cv" d="M164 411C170 412 173 414 176 420S180 428 186 429"/>
<text class="tiny m" x="175" y="407">learningrate</text>
<rect class="hm" x="164" y="436" width="22" height="20.500" fill="url(#h3)"/>
<rect class="lc" x="193" y="436" width="21.500" height="20.500"/><path class="pk" d="M203 436V456.500"/><path class="cv" d="M193 446C198 445 205 444 214.500 445"/>
<text class="tiny m" x="203.700" y="434">activation</text>
<rect x="20" y="302" width="21.500" height="74.500" fill="url(#dots)"/><rect x="49" y="329" width="21.500" height="47.500" fill="url(#dots)"/><rect x="78" y="356" width="21.500" height="20.500" fill="url(#dots)"/>
<rect x="20" y="382" width="137" height="74.500" fill="url(#dots)" opacity=".55"/>
<g class="red"><circle cx="23" cy="347" r=".9"/><circle cx="25" cy="367" r=".9"/><circle cx="24" cy="399" r=".9"/><circle cx="25" cy="412" r=".9"/><circle cx="25" cy="446" r=".9"/><circle cx="50" cy="412" r=".9"/><circle cx="78" cy="412" r=".9"/><circle cx="78" cy="367" r=".9"/><circle cx="116" cy="446" r=".9"/><circle cx="139" cy="412" r=".9"/><circle cx="79" cy="446" r=".9"/><circle cx="139" cy="446" r=".9"/><circle cx="183" cy="446" r=".9"/><circle cx="116" cy="412" r=".9"/></g>
<g>
<text class="m tiny" transform="translate(14,312) rotate(-90)">lstm_layer</text>
<text class="m tiny" transform="translate(14,339) rotate(-90)">dense_unit</text>
<text class="m tiny" transform="translate(14,366) rotate(-90)">lstm_units</text>
<text class="m tiny" transform="translate(14,392) rotate(-90)">filter_size</text>
<text class="m tiny" transform="translate(14,419) rotate(-90)">learningrate</text>
<text class="m tiny" transform="translate(14,446) rotate(-90)">activation</text>
<text class="m tiny" x="30.700" y="466">filter_layer</text><text class="m tiny" x="59.700" y="466">lstm_layer</text><text class="m tiny" x="88.700" y="466">dense_unit</text><text class="m tiny" x="117.700" y="466">lstm_units</text><text class="m tiny" x="146" y="466">filter_size</text><text class="m tiny" x="175" y="466">learningrate</text>
</g>
</g>
</g>

<g id="step5">
<text class="ttl" x="250" y="236"><tspan class="b">Step 5:</tspan> Model prediction and performance evaluation.</text>
<g id="n-ablation">
<path class="cyl" d="M248 245V255C248 257 259 257.500 273 257.500S298 257 298 255V245"/>
<ellipse cx="273" cy="244.500" rx="25" ry="1.800" fill="#eee8fb" stroke="#222" stroke-width="1"/>
<text class="m" x="273" y="254">Ablation study</text></g>
<g id="n-models"><rect x="239" y="263" width="303" height="13" rx="2" fill="#fff" stroke="#333" stroke-width="1"/>
<text x="242" y="272.500" style="font-size:7.3px">CNN、BiLSTM、CNN-BiLSTM、CNN-BiLSTM-CA-Sequential、CNN-BiLSTM-CA-Parallel</text></g>
<g id="n-comparison">
<path class="cyl" d="M247 285V295C247 297 270 297.500 302.500 297.500S358 297 358 295V285"/>
<ellipse cx="302.500" cy="284.500" rx="55.500" ry="1.800" fill="#eee8fb" stroke="#222" stroke-width="1"/>
<text class="m" x="301" y="294">Comparison with baseline models</text></g>
<g id="violin-plot">
<rect x="263" y="306" width="109" height="87" fill="#fff" stroke="#555" stroke-width=".6"/>
<g>
<text class="ax" x="261" y="308" text-anchor="end">70</text><text class="ax" x="261" y="319" text-anchor="end">60</text><text class="ax" x="261" y="330" text-anchor="end">50</text><text class="ax" x="261" y="340.500" text-anchor="end">40</text><text class="ax" x="261" y="351" text-anchor="end">30</text><text class="ax" x="261" y="362" text-anchor="end">20</text><text class="ax" x="261" y="373" text-anchor="end">10</text><text class="ax" x="261" y="383.500" text-anchor="end">0</text><text class="ax" x="261" y="394.500" text-anchor="end">-10</text>
</g>
<text class="ax m" transform="translate(250,350) rotate(-90)">Absolute error (cm)</text>
<line class="tail" x1="273" y1="337.500" x2="273" y2="358"/><line class="tail" x1="291" y1="317" x2="291" y2="340"/><line class="tail" x1="309" y1="328" x2="309" y2="347"/><line class="tail" x1="327" y1="330" x2="327" y2="340"/><line class="tail" x1="345" y1="361" x2="345" y2="365"/><line class="tail" x1="363" y1="364" x2="363" y2="367"/>
<path class="vi" fill="#a8a8f8" transform="translate(273,0)" d="M0 386C-2 384-7 380-7 376C-7 372-3 368-2 358L2 358C3 368 7 372 7 376C7 380 2 384 0 386Z"/>
<path class="vi" fill="#f8f8a8" transform="translate(291,0)" d="M0 387C-2 385-6 381-6 376C-6 368-3 355-2 340L2 340C3 355 6 368 6 376C6 381 2 385 0 387Z"/>
<path class="vi" fill="#fc9a70" transform="translate(309,0)" d="M0 387C-3 385-8 381-8 372C-8 365-4 358-2 347L2 347C4 358 8 365 8 372C8 381 3 385 0 387Z"/>
<path class="vi" fill="#66dd22" transform="translate(327,0)" d="M0 387C-3 385-8 380-8 372C-8 362-4 352-2 340L2 340C4 352 8 362 8 372C8 380 3 385 0 387Z"/>
<path class="vi" fill="#22aaf0" transform="translate(345,0)" d="M0 384C-2 383-7 380-7 376C-6 373-3 370-1.500 364L1.500 364C3 370 6 373 7 376C7 380 2 383 0 384Z"/>
<path class="vi" fill="#f01838" transform="translate(363,0)" d="M0 384C-2 383-8 380-8 377C-6 375-3 372-1.500 366L1.500 366C3 372 6 375 8 377C8 380 2 383 0 384Z"/>
<g fill="#b0b0b0"><rect x="272.300" y="365" width="1.400" height="16"/><rect x="290.300" y="360" width="1.400" height="21"/><rect x="308.300" y="358" width="1.400" height="23"/><rect x="326.300" y="358" width="1.400" height="23"/><rect x="344.300" y="372" width="1.400" height="9"/><rect x="362.300" y="372" width="1.400" height="9"/></g>
<g class="legend"><path d="M366 307.500V327.500H315" fill="none" stroke="#111" stroke-width="1.200"/>
<rect x="315" y="307" width="51" height="20" fill="#fff" stroke="#aaa" stroke-width=".4"/>
<rect x="316.500" y="308.500" width="9" height="5" fill="#aaa"/><path d="M321 315V320" stroke="#777" stroke-width=".9"/><circle cx="321" cy="323.500" r=".6" fill="#777"/>
<text class="ax" x="327" y="312.500">25%~75%</text><text class="ax" x="327" y="318.500">Range within 1.5IQR</text><text class="ax" x="327" y="324.500">Median</text></g>
<text class="ax m" x="273" y="398">XGBoost</text><text class="ax m" x="291" y="398">SVM</text><text class="ax m" x="309" y="398">KR</text><text class="ax m" x="327" y="398">RF</text><text class="ax m" x="345" y="398">BiTCN</text><text class="ax m" x="363" y="398">Proposed</text>
<text class="ax m" x="319" y="404.500">Model</text>
</g>
<g id="radial-chart" transform="translate(459,347)">
<use href="#sector" fill="#e9b3f8" class="sec"/>
<use href="#sector" transform="rotate(90)" fill="#98f0b0" class="sec"/>
<use href="#sector" transform="rotate(180)" fill="#fcc8aa" class="sec"/>
<use href="#sector" transform="rotate(270)" fill="#5cb8f0" class="sec"/>
<circle class="grid" r="38"/><circle class="grid" r="29"/><circle class="grid" r="21"/>
<g class="bars">
<line class="o" y1="-14" y2="-33" transform="rotate(13)"/><line class="gr" y1="-14" y2="-44" transform="rotate(26)"/><line class="pu" y1="-14" y2="-39" transform="rotate(39)"/><line class="ye" y1="-14" y2="-42" transform="rotate(51)"/><line class="bl" y1="-14" y2="-27" transform="rotate(64)"/><line class="ma" y1="-14" y2="-17" transform="rotate(77)"/>
<line class="o" y1="-14" y2="-34" transform="rotate(103)"/><line class="gr" y1="-14" y2="-46" transform="rotate(116)"/><line class="pu" y1="-14" y2="-41" transform="rotate(129)"/><line class="ye" y1="-14" y2="-45" transform="rotate(141)"/><line class="bl" y1="-14" y2="-30" transform="rotate(154)"/><line class="ma" y1="-14" y2="-24" transform="rotate(167)"/>
<line class="o" y1="-14" y2="-39" transform="rotate(193)"/><line class="gr" y1="-14" y2="-47" transform="rotate(206)"/><line class="pu" y1="-14" y2="-42" transform="rotate(219)"/><line class="ye" y1="-14" y2="-44" transform="rotate(231)"/><line class="bl" y1="-14" y2="-32" transform="rotate(244)"/><line class="ma" y1="-14" y2="-25" transform="rotate(257)"/>
<line class="o" y1="-14" y2="-40" transform="rotate(283)"/><line class="gr" y1="-14" y2="-30" transform="rotate(296)"/><line class="pu" y1="-14" y2="-37" transform="rotate(309)"/><line class="ye" y1="-14" y2="-31" transform="rotate(321)"/><line class="pu" y1="-14" y2="-45" transform="rotate(334)"/><line class="ma" y1="-14" y2="-47" transform="rotate(347)"/>
</g>
<circle r="14" fill="#fff"/>
<g>
<text class="rl" transform="rotate(-77) translate(50,1)">XGBoost</text><text class="rl" transform="rotate(-64) translate(50,1)">SVM</text><text class="rl" transform="rotate(-51) translate(50,1)">KR</text><text class="rl" transform="rotate(-39) translate(50,1)">RF</text><text class="rl" transform="rotate(-26) translate(50,1)">BiTCN</text><text class="rl" transform="rotate(-13) translate(50,1)">Proposed</text>
<text class="rl" transform="rotate(13) translate(50,1)">XGBoost</text><text class="rl" transform="rotate(26) translate(50,1)">SVM</text><text class="rl" transform="rotate(39) translate(50,1)">KR</text><text class="rl" transform="rotate(51) translate(50,1)">RF</text><text class="rl" transform="rotate(64) translate(50,1)">BiTCN</text><text class="rl" transform="rotate(77) translate(50,1)">Proposed</text>
<text class="rl" text-anchor="end" transform="rotate(-77) translate(-50,1)">XGBoost</text><text class="rl" text-anchor="end" transform="rotate(-64) translate(-50,1)">SVM</text><text class="rl" text-anchor="end" transform="rotate(-51) translate(-50,1)">KR</text><text class="rl" text-anchor="end" transform="rotate(-39) translate(-50,1)">RF</text><text class="rl" text-anchor="end" transform="rotate(-26) translate(-50,1)">BiTCN</text><text class="rl" text-anchor="end" transform="rotate(-13) translate(-50,1)">Proposed</text>
<text class="rl" text-anchor="end" transform="rotate(13) translate(-50,1)">XGBoost</text><text class="rl" text-anchor="end" transform="rotate(26) translate(-50,1)">SVM</text><text class="rl" text-anchor="end" transform="rotate(39) translate(-50,1)">KR</text><text class="rl" text-anchor="end" transform="rotate(51) translate(-50,1)">RF</text><text class="rl" text-anchor="end" transform="rotate(64) translate(-50,1)">BiTCN</text><text class="rl" text-anchor="end" transform="rotate(77) translate(-50,1)">Proposed</text>
<text class="rl m" transform="translate(45,-45) rotate(45)">RMSE</text><text class="rl m" transform="translate(41,45) rotate(-45)">MAE</text><text class="rl m" transform="translate(-45,45) rotate(45)">MAPE</text><text class="rl m" transform="translate(-43,-44) rotate(-45)">R</text>
<text class="rl" text-anchor="end" x="1.500" y="-47">19.5</text><text class="rl" text-anchor="end" x="1.500" y="-39">14.7</text><text class="rl" text-anchor="end" x="1.500" y="-31">9.8</text><text class="rl" text-anchor="end" x="1.500" y="-23">4.9</text>
<text class="rl" transform="translate(49,1.500) rotate(-90)">14.4</text><text class="rl" transform="translate(41,1.500) rotate(-90)">10.8</text><text class="rl" transform="translate(33,1.500) rotate(-90)">7.2</text><text class="rl" transform="translate(25,1.500) rotate(-90)">3.6</text>
<text class="rl" x="-3" y="47">8.4</text><text class="rl" x="-3" y="39">6.3</text><text class="rl" x="-3" y="31">4.2</text><text class="rl" x="-3" y="23">2.1</text>
<text class="rl" transform="translate(-46,-2) rotate(-90)" text-anchor="end">1.00</text><text class="rl" transform="translate(-38,-2) rotate(-90)" text-anchor="end">0.80</text><text class="rl" transform="translate(-30,-2) rotate(-90)" text-anchor="end">0.60</text><text class="rl" transform="translate(-22,-2) rotate(-90)" text-anchor="end">0.40</text>
</g>
</g>
<g id="m-rmse">
<ellipse class="ell" cx="281" cy="420" rx="12" ry="6.500"/><text class="m" x="281" y="423">RMSE</text>
<path class="mbox" d="M245 437L281 429L316 437V468H245Z"/>
<text class="fx" x="247.500" y="459">RMSE =</text>
<path class="ln" stroke-width=".7" d="M272 460L274 469L277 439H311M276 457H310"/>
<text class="m" x="282.500" y="452" style="font-size:8.5px">Σ</text><text class="tiny m" x="282.500" y="443.500" style="font-size:3.500px">N</text><text class="tiny m" x="282.500" y="456" style="font-size:3.500px">k=1</text>
<text class="i" x="288" y="449" style="font-size:6px">(y<tspan dy="1" style="font-size:3.500px">k</tspan><tspan dy="-1"> − ŷ</tspan><tspan dy="1" style="font-size:3.500px">k</tspan><tspan dy="-1">)</tspan><tspan dy="-2.500" style="font-size:3.500px">2</tspan></text>
<text class="i m" x="293" y="464" style="font-size:6.500px">N</text>
</g>
<g id="m-mae">
<ellipse class="ell" cx="354" cy="420" rx="12" ry="6.500"/><text class="m" x="354" y="423">MAE</text>
<path class="mbox" d="M320 437L354 429L387 437V468H320Z"/>
<text class="fx" x="322" y="459">MAE =</text>
<text class="m" x="348" y="453.500" style="font-size:6.500px">1</text><path class="ln" stroke-width=".6" d="M344 455.500H352"/><text class="i m" x="348" y="462.500" style="font-size:6.500px">N</text>
<text class="m" x="358" y="459.500" style="font-size:9px">Σ</text><text class="tiny m" x="358" y="452" style="font-size:3.500px">N</text><text class="tiny m" x="358" y="464" style="font-size:3.500px">k=1</text>
<text class="i" x="364" y="458" style="font-size:6px">|y<tspan dy="1" style="font-size:3.500px">k</tspan><tspan dy="-1"> − ŷ</tspan><tspan dy="1" style="font-size:3.500px">k</tspan><tspan dy="-1">|</tspan></text>
</g>
<g id="m-mape">
<ellipse class="ell" cx="432" cy="420" rx="12" ry="6.500"/><text class="m" x="432" y="423">MAPE</text>
<path class="mbox" d="M392 437L432 429L472 437V468H392Z"/>
<text class="fx" x="394" y="457">MAPE =</text>
<text class="m" x="427" y="451" style="font-size:6.500px">100%</text><path class="ln" stroke-width=".6" d="M420 453.500H434"/><text class="i m" x="427" y="461" style="font-size:6.500px">N</text>
<text class="m" x="443" y="458" style="font-size:8.500px">Σ</text><text class="tiny m" x="443" y="449.500" style="font-size:3.500px">N</text><text class="tiny m" x="443" y="462" style="font-size:3.500px">k=1</text>
<path class="ln" stroke-width=".6" d="M449 446V463M470 446V463M451 454H468"/>
<text class="i m" x="459.500" y="451.500" style="font-size:6px">y<tspan dy="1" style="font-size:3.500px">k</tspan><tspan dy="-1"> − ŷ</tspan><tspan dy="1" style="font-size:3.500px">k</tspan></text>
<text class="i m" x="459.500" y="461" style="font-size:6px">y<tspan dy="1" style="font-size:3.500px">k</tspan></text>
</g>
<g id="m-r">
<ellipse class="ell" cx="507" cy="420" rx="12" ry="6.500"/><text class="m" x="507" y="423">R</text>
<path class="mbox" d="M478 437L507 429L539 437V468H478Z"/>
<text class="fx" x="481" y="455">R =</text>
<text class="m" x="515" y="449" style="font-size:6px">cov(<tspan class="i">y</tspan><tspan dy="1" style="font-size:3.500px">k</tspan><tspan dy="-1">, </tspan><tspan class="i">ŷ</tspan><tspan dy="1" style="font-size:3.500px">k</tspan><tspan dy="-1">)</tspan></text>
<path class="ln" stroke-width=".6" d="M493 452H538M494 460L495.500 464L497.500 455H515M514 460L515.500 464L517.500 455H537"/>
<text class="i" x="498" y="461.500" style="font-size:5.500px">V(y<tspan dy="1" style="font-size:3px">k</tspan><tspan dy="-1">)</tspan></text>
<text class="i" x="518" y="461.500" style="font-size:5.500px">V(ŷ<tspan dy="1" style="font-size:3px">k</tspan><tspan dy="-1">)</tspan></text>
</g>
</g>
</svg>
